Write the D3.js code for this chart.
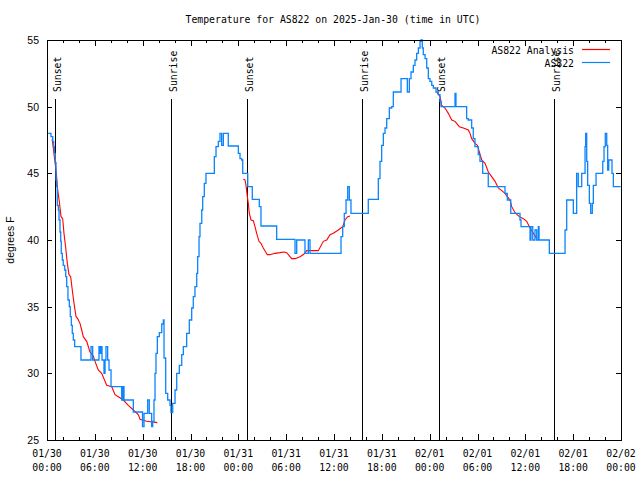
<!DOCTYPE html>
<html>
<head>
<meta charset="utf-8">
<script src="https://cdn.jsdelivr.net/npm/d3@7"></script>
<style>
  html, body { margin: 0; padding: 0; background: #fff; }
  svg { display: block; }
  .mono { font-family: "DejaVu Sans Mono", "Liberation Mono", monospace; font-size: 9.8px; fill: #000; }
  .sans { font-family: "Liberation Sans", Arial, sans-serif; font-size: 10.5px; fill: #000; }
</style>
</head>
<body>
<svg id="chart" width="640" height="480"></svg>
<script>
// ---- data (hours since 2025-01-30 00:00 UTC) ----
const titleText = "Temperature for AS822 on 2025-Jan-30 (time in UTC)";
const yLabel = "degrees F";
const yTicks = [25, 30, 35, 40, 45, 50, 55];
const xTickHours = [0, 6, 12, 18, 24, 30, 36, 42, 48, 54, 60, 66, 72];
const seriesNames = ["AS822 Analysis", "AS822"];

const blueHours = [0.16,0.50,0.72,0.84,0.92,1.04,1.13,1.22,1.29,1.42,1.51,1.63,1.72,1.79,1.92,2.04,2.22,2.35,2.47,2.63,2.80,2.92,3.05,3.17,3.30,3.47,4.26,5.52,5.73,6.52,6.65,6.74,6.90,7.15,7.28,7.40,7.61,7.78,8.03,9.37,9.50,9.66,10.83,11.98,12.17,12.63,12.83,13.13,13.26,13.42,13.55,13.67,13.84,14.09,14.39,14.59,14.68,14.89,15.14,15.43,15.55,15.77,16.06,16.27,16.60,16.90,17.10,17.52,17.85,18.15,18.35,18.56,18.78,18.90,19.07,19.19,19.41,19.53,19.73,19.94,20.99,21.20,21.49,21.70,21.91,22.12,22.74,24.00,24.21,24.42,24.55,25.18,25.75,26.63,26.84,28.81,31.11,31.32,32.36,32.78,32.99,36.88,37.09,37.29,37.51,37.72,37.92,38.13,40.30,41.56,41.77,41.98,42.19,42.40,42.61,42.94,43.24,43.44,44.41,45.20,45.45,45.66,45.95,46.16,46.37,46.58,46.79,46.91,47.08,47.20,47.42,47.63,47.83,48.04,48.26,48.46,48.80,49.08,49.29,49.42,51.18,51.30,52.64,52.84,53.27,53.47,53.68,54.10,54.31,54.65,55.35,57.45,57.74,58.17,59.33,59.46,60.59,60.71,60.93,61.21,61.43,61.63,61.72,63.01,64.98,65.19,66.02,66.44,66.64,67.07,67.49,67.57,67.70,67.82,68.03,68.20,68.40,68.53,68.87,69.71,69.87,70.03,70.21,70.33,70.46,70.87,71.04,71.96];
const blueTemps = [48.0,47.75,47.4,47.0,46.5,45.8,44.5,44.0,42.6,42.25,41.5,40.6,39.9,39.0,38.5,38.1,37.75,37.25,36.5,35.5,35.0,34.25,33.6,33.0,32.5,32.0,31.0,32.0,31.0,32.0,31.5,32.0,31.0,30.0,31.0,32.0,31.0,30.25,29.0,28.0,29.0,28.0,27.1,26.0,27.0,28.0,27.0,26.0,26.4,28.0,30.0,31.5,32.75,33.05,33.7,34.0,31.15,28.5,28.0,27.6,27.05,27.75,28.75,30.0,30.6,31.4,32.0,33.0,34.0,34.9,35.75,36.5,37.5,38.75,40.25,41.25,42.25,43.25,44.25,45.0,46.25,47.0,47.4,48.0,47.1,48.0,47.05,46.5,46.1,46.0,45.0,44.0,43.05,42.5,41.05,40.05,39.0,40.0,39.0,40.0,39.0,40.25,41.0,42.0,43.0,44.0,43.0,42.0,43.05,44.6,45.9,47.1,48.0,48.4,49.1,49.9,50.0,51.1,52.1,51.1,52.1,52.6,53.1,53.5,54.0,54.4,54.9,55.0,54.4,53.9,53.6,52.9,52.1,51.9,51.6,51.4,51.1,50.9,50.4,50.0,51.0,50.0,49.1,49.0,48.4,47.6,47.0,46.4,45.9,45.0,44.0,43.5,43.0,42.0,41.5,41.0,40.0,41.0,40.0,40.75,40.0,41.0,40.0,39.0,40.75,43.0,42.0,45.0,44.0,45.0,47.0,48.0,45.9,44.1,42.75,42.0,42.75,44.1,45.0,45.9,47.0,48.0,47.1,45.25,46.0,45.0,44.0,44.0];

const redHours = [0.59,0.66,1.13,1.34,1.54,1.76,1.97,2.13,2.35,2.55,2.76,2.97,3.17,3.39,3.64,3.85,4.14,4.35,4.55,4.98,5.39,5.81,6.02,6.43,6.86,7.49,8.12,8.53,8.94,9.57,10.20,10.83,11.45,11.67,12.51,13.84,
  19.0,
  24.62,24.84,24.96,25.13,25.25,25.38,25.59,25.88,26.09,26.30,26.59,26.84,27.13,27.63,27.97,28.60,29.23,29.73,30.07,30.69,31.11,31.74,32.24,32.58,34.03,34.66,35.09,35.50,35.91,36.54,37.09,37.38,37.72,38.01,
  43.0,
  48.88,49.30,49.51,49.92,50.34,50.77,51.18,51.72,52.22,52.85,53.06,53.27,53.69,53.98,54.23,54.53,54.94,55.36,55.78,56.20,56.61,57.04,57.45,57.74,58.08,58.29,58.71,59.25,59.75,60.17,60.59,61.00,61.43];
const redTemps = [47.55,47.5,45.25,43.75,42.9,41.75,41.6,40.5,39.4,38.25,37.4,37.25,36.25,35.25,34.25,34.1,33.75,33.25,32.75,32.4,31.6,31.3,30.9,30.25,30.0,29.1,29.0,28.4,28.25,28.0,27.6,27.25,26.9,26.55,26.4,26.3,
  NaN,
  44.55,44.5,44.1,43.25,42.75,42.0,41.5,41.45,41.0,40.5,39.9,39.75,39.4,38.9,38.9,39.0,39.05,39.1,39.05,38.6,38.6,38.75,38.95,39.2,39.2,39.9,40.0,40.4,40.5,40.75,41.0,41.5,41.75,41.8,
  NaN,
  51.1,50.75,50.1,49.9,49.5,49.0,48.9,48.5,48.4,48.25,48.0,47.6,47.25,47.1,46.6,46.0,45.75,45.1,44.75,44.4,43.9,43.7,43.5,43.25,43.0,42.5,42.05,41.75,41.6,41.4,40.9,40.5,40.1];

const sunHours = [1.00, 15.59, 25.13, 39.55, 49.21, 63.64];
const sunLabels = ["Sunset", "Sunrise", "Sunset", "Sunrise", "Sunset", "Sunrise"];

const colors = { analysis: "#ff0000", obs: "#0a84ff" };

// ---- drawing ----
const start = Date.UTC(2025, 0, 30, 0, 0, 0);
const toDate = h => new Date(start + h * 3600e3);

const svg = d3.select("#chart");
const L = 47, R = 621, T = 40, B = 440;

const x = d3.scaleUtc().domain([toDate(0), toDate(72)]).range([L, R]);
const y = d3.scaleLinear().domain([25, 55]).range([B, T]);

const fmtDay = d3.utcFormat("%m/%d");
const fmtTime = d3.utcFormat("%H:%M");

// minor ticks every 2h
const minorHours = d3.range(0, 73, 2).filter(h => h % 6 !== 0);

const gB = svg.append("g").attr("transform", `translate(0,${B})`)
  .call(d3.axisBottom(x).tickValues(xTickHours.map(toDate)).tickSizeInner(-6).tickSizeOuter(0).tickFormat(""));
const gBm = svg.append("g").attr("transform", `translate(0,${B})`)
  .call(d3.axisBottom(x).tickValues(minorHours.map(toDate)).tickSizeInner(-3).tickSizeOuter(0).tickFormat(""));
const gT = svg.append("g").attr("transform", `translate(0,${T})`)
  .call(d3.axisTop(x).tickValues(xTickHours.map(toDate)).tickSizeInner(-6).tickSizeOuter(0).tickFormat(""));
const gTm = svg.append("g").attr("transform", `translate(0,${T})`)
  .call(d3.axisTop(x).tickValues(minorHours.map(toDate)).tickSizeInner(-3).tickSizeOuter(0).tickFormat(""));
const gL = svg.append("g").attr("transform", `translate(${L},0)`)
  .call(d3.axisLeft(y).tickValues(yTicks).tickSizeInner(-5).tickSizeOuter(0).tickFormat(""));
const gR = svg.append("g").attr("transform", `translate(${R},0)`)
  .call(d3.axisRight(y).tickValues(yTicks).tickSizeInner(-5).tickSizeOuter(0).tickFormat(""));
[gB, gBm, gT, gTm, gL, gR].forEach(g => {
  g.select(".domain").remove();
  g.selectAll("line").attr("stroke", "#000").attr("stroke-width", 1).attr("shape-rendering", "crispEdges");
});

// x tick labels (two lines)
const xl = svg.append("g");
xTickHours.forEach(h => {
  const d = toDate(h);
  const t = xl.append("text").attr("class", "mono").attr("text-anchor", "middle");
  t.append("tspan").attr("x", x(d)).attr("y", 457).text(fmtDay(d));
  t.append("tspan").attr("x", x(d)).attr("y", 471).text(fmtTime(d));
});

// y tick labels
svg.append("g").selectAll("text").data(yTicks).join("text")
  .attr("class", "sans").attr("text-anchor", "end")
  .attr("x", 39).attr("y", d => y(d) + 4).text(d => d);

// y label
svg.append("text").attr("class", "sans").attr("text-anchor", "middle")
  .attr("transform", `translate(14,240) rotate(-90)`).text(yLabel);

// title
svg.append("text").attr("class", "mono").attr("text-anchor", "middle")
  .attr("x", 333).attr("y", 23).text(titleText);

// sunrise / sunset lines
const sun = svg.append("g");
sunHours.forEach((h, i) => {
  const sx = Math.round(x(toDate(h))) + 0.5;
  sun.append("line").attr("x1", sx).attr("x2", sx).attr("y1", 99).attr("y2", B)
    .attr("stroke", "#000").attr("stroke-width", 1);
  sun.append("text").attr("class", "mono").attr("text-anchor", "start")
    .attr("transform", `translate(${sx + 5},92) rotate(-90)`).text(sunLabels[i]);
});

// series
const redData = redHours.map((h, i) => [toDate(h), redTemps[i]]);
const blueData = blueHours.map((h, i) => [toDate(h), blueTemps[i]]);

svg.append("path").datum(redData)
  .attr("fill", "none").attr("stroke", colors.analysis).attr("stroke-width", 1.1)
  .attr("d", d3.line().defined(d => !isNaN(d[1])).x(d => x(d[0])).y(d => y(d[1])));

svg.append("path").datum(blueData)
  .attr("fill", "none").attr("stroke", colors.obs).attr("stroke-width", 1.3)
  .attr("d", d3.line().x(d => x(d[0])).y(d => y(d[1])).curve(d3.curveStepAfter));

// frame
svg.append("rect").attr("x", L + 0.5).attr("y", T + 0.5).attr("width", R - L).attr("height", B - T)
  .attr("fill", "none").attr("stroke", "#000").attr("stroke-width", 1).attr("shape-rendering", "crispEdges");

// legend
const leg = svg.append("g");
const legColors = [colors.analysis, colors.obs];
seriesNames.forEach((name, i) => {
  const ly = 50 + i * 13;
  leg.append("text").attr("class", "mono").attr("text-anchor", "end")
    .attr("x", 574).attr("y", ly + 3.5).text(name);
  leg.append("line").attr("x1", 582).attr("x2", 610).attr("y1", ly - 0.5).attr("y2", ly - 0.5)
    .attr("stroke", legColors[i]).attr("stroke-width", 1.2);
});
</script>
</body>
</html>
